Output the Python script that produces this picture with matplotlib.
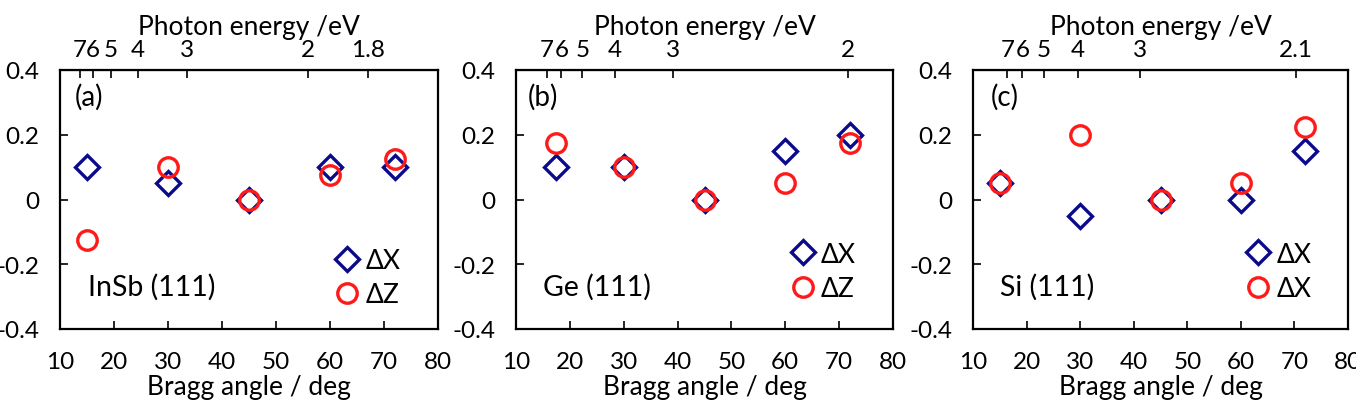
import numpy as np
import matplotlib
matplotlib.use("Agg")
import matplotlib.pyplot as plt
from matplotlib.ticker import FuncFormatter

plt.rcParams['font.family'] = ['Lato', 'DejaVu Sans']
plt.rcParams['axes.unicode_minus'] = False

# data
angle_a = [15, 30, 45, 60, 72]
dx_a = [0.1, 0.05, 0.0, 0.1, 0.1]
dz_a = [-0.125, 0.1, 0.0, 0.075, 0.125]

angle_b = [17.5, 30, 45, 60, 72]
dx_b = [0.1, 0.1, 0.0, 0.15, 0.2]
dz_b = [0.175, 0.1, 0.0, 0.05, 0.175]

angle_c = [15, 30, 45, 60, 72]
dx_c = [0.05, -0.05, 0.0, 0.0, 0.15]
dz_c = [0.05, 0.2, 0.0, 0.05, 0.225]

panel_tags = ['(a)', '(b)', '(c)']
crystals = ['InSb (111)', 'Ge (111)', 'Si (111)']
d_spacing = [3.7398, 3.2663, 3.1356]   # angstrom
energy_ticks = [[7, 6, 5, 4, 3, 2, 1.8], [7, 6, 5, 4, 3, 2], [7, 6, 5, 4, 3, 2.1]]
legend_labels = [['ΔX', 'ΔZ'], ['ΔX', 'ΔZ'], ['ΔX', 'ΔX']]

angles = [angle_a, angle_b, angle_c]
dxs = [dx_a, dx_b, dx_c]
dzs = [dz_a, dz_b, dz_c]

W, H = 1356, 402
fig = plt.figure(figsize=(W / 100, H / 100), dpi=100)
lefts = [60, 516, 973]
rights = [438, 893, 1348]
top, bottom = 71, 330
tag_x = [0.04, 0.032, 0.047]
name_x = [0.074, 0.072, 0.072]
leg_y = [0.313, 0.337, 0.337]

navy = '#0a0a8a'
red = '#ff1a1a'

for i in range(3):
    ax = fig.add_axes([lefts[i] / W, 1 - bottom / H, (rights[i] - lefts[i]) / W, (bottom - top) / H])
    ax.plot(angles[i], dxs[i], linestyle='none', marker='D', markersize=12,
            markerfacecolor='none', markeredgecolor=navy, markeredgewidth=2.4, label=legend_labels[i][0])
    ax.plot(angles[i], dzs[i], linestyle='none', marker='o', markersize=14,
            markerfacecolor='none', markeredgecolor=red, markeredgewidth=2.4, label=legend_labels[i][1])
    ax.set_xlim(10, 80)
    ax.set_ylim(-0.4, 0.4)
    ax.set_xticks([10, 20, 30, 40, 50, 60, 70, 80])
    ax.set_yticks([-0.4, -0.2, 0, 0.2, 0.4])
    ax.yaxis.set_major_formatter(FuncFormatter(lambda v, p: '0' if abs(v) < 1e-9 else f'{v:.1f}'))
    ax.tick_params(direction='in', length=6, width=1.2, labelsize=17.5)
    ax.tick_params(axis='y', pad=15)
    ax.tick_params(axis='x', pad=16)
    for s in ax.spines.values():
        s.set_linewidth(1.6)
    ax.set_xlabel('Bragg angle / deg', fontsize=19)
    ax.xaxis.set_label_coords(0.5, -0.175)

    k = 12.398 / (2 * d_spacing[i])

    def fwd(t, k=k):
        t = np.asarray(t, dtype=float)
        s = np.sin(np.radians(np.clip(t, 0.5, 89.5)))
        return k / s

    def inv(e, k=k):
        e = np.asarray(e, dtype=float)
        r = np.clip(k / np.maximum(e, 1e-6), -1, 1)
        return np.degrees(np.arcsin(r))

    sec = ax.secondary_xaxis('top', functions=(fwd, inv))
    sec.set_xticks(energy_ticks[i])
    sec.xaxis.set_major_formatter(FuncFormatter(lambda v, p: f'{v:g}'))
    sec.tick_params(direction='in', length=6, width=1.2, labelsize=17.5, pad=7.5)
    sec.set_xlabel('Photon energy /eV', fontsize=19, labelpad=3)

    ax.text(tag_x[i], 0.9, panel_tags[i], transform=ax.transAxes, fontsize=20, va='center')
    ax.text(name_x[i], 0.166, crystals[i], transform=ax.transAxes, fontsize=20.5, va='center')
    ax.legend(loc='upper left', bbox_to_anchor=(0.725, leg_y[i]), frameon=False, fontsize=19,
              handlelength=1.0, handletextpad=0.2, labelspacing=0.35, borderpad=0, borderaxespad=0)

fig.savefig('out.png', dpi=100)
